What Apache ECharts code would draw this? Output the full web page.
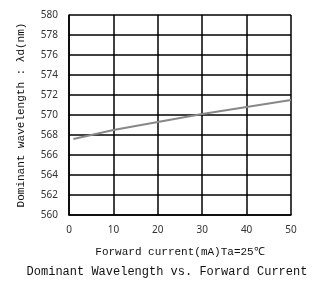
<!DOCTYPE html>
<html>
<head>
<meta charset="utf-8">
<script src="https://cdn.jsdelivr.net/npm/echarts@6/dist/echarts.min.js"></script>
<style>
  html, body { margin: 0; padding: 0; background: #fff; }
  #main { width: 334px; height: 286px; }
</style>
</head>
<body>
<div id="main"></div>
<script>
const current = [1, 10, 20, 30, 40, 50];
const wavelength = [567.6, 568.5, 569.3, 570.1, 570.8, 571.5];

const chart = echarts.init(document.getElementById("main"));
const monoFont = "Liberation Mono";

chart.setOption({
  animation: false,
  backgroundColor: "#fff",
  title: {
    text: "Dominant Wavelength vs. Forward Current",
    left: "center",
    top: 261,
    textStyle: { fontFamily: monoFont, fontSize: 12, fontWeight: "normal", color: "#111" },
  },
  grid: { left: 69, right: 43, top: 15, bottom: 71 },
  xAxis: {
    type: "value",
    min: 0,
    max: 50,
    interval: 10,
    name: "Forward current(mA)Ta=25℃",
    nameLocation: "middle",
    nameGap: 32,
    nameTextStyle: { fontFamily: monoFont, fontSize: 11, color: "#111" },
    axisLine: { lineStyle: { color: "#000", width: 1.5 } },
    axisTick: { show: false },
    axisLabel: { fontFamily: "Noto Sans", fontSize: 10, color: "#333", margin: 10 },
    splitLine: { show: true, lineStyle: { color: "#000", width: 1.5 } },
  },
  yAxis: {
    type: "value",
    min: 560,
    max: 580,
    interval: 2,
    name: "Dominant wavelength : λd(nm)",
    nameLocation: "middle",
    nameGap: 42,
    nameTextStyle: { fontFamily: monoFont, fontSize: 11, color: "#111" },
    axisLine: { show: true, lineStyle: { color: "#000", width: 1.5 } },
    axisTick: { show: false },
    axisLabel: { fontFamily: "Noto Sans", fontSize: 10, color: "#333", margin: 11 },
    splitLine: { show: true, lineStyle: { color: "#000", width: 1.5 } },
  },
  series: [
    {
      type: "line",
      data: current.map((c, i) => [c, wavelength[i]]),
      showSymbol: false,
      lineStyle: { color: "#888", width: 2 },
    },
  ],
});
</script>
</body>
</html>
